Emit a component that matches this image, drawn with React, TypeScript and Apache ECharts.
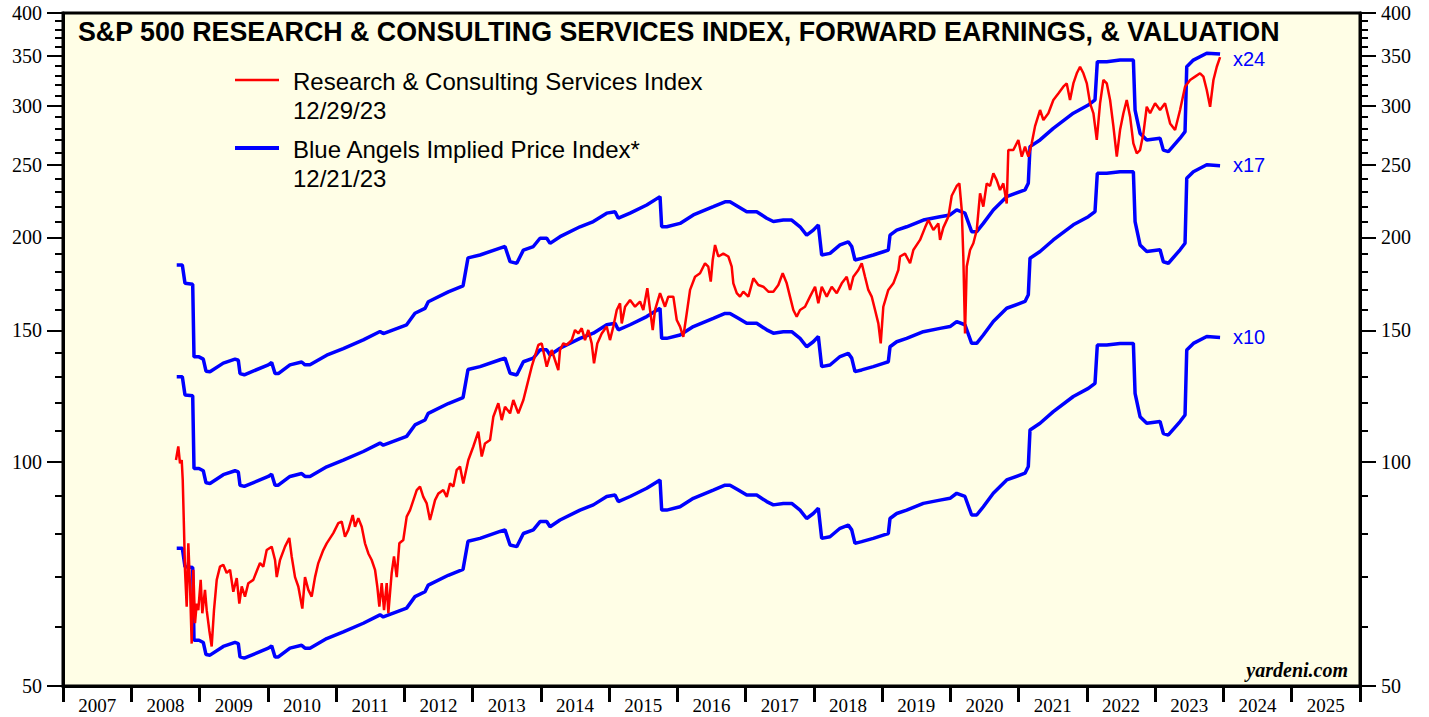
import React, { useEffect, useRef } from "react";
import * as echarts from "echarts";

// ---- data ----
const yearLabels = [2007, 2008, 2009, 2010, 2011, 2012, 2013, 2014, 2015, 2016, 2017, 2018, 2019, 2020, 2021, 2022, 2023, 2024, 2025];
const majorTicks = [50, 100, 150, 200, 250, 300, 350, 400];
const minorTicks = [60, 70, 80, 90, 110, 120, 130, 140, 160, 170, 180, 190, 210, 220, 230, 240, 260, 270, 280, 290, 310, 320, 330, 340, 360, 370, 380, 390];
const multiples = [24, 17, 10];

// Forward earnings (weekly): [decimal year, earnings]
const fwdEarnings: [number, number][] = [
  [2008.666, 7.65], [2008.748, 7.65], [2008.787, 7.23], [2008.900, 7.21], [2008.919, 5.76], [2008.992, 5.76],
  [2009.055, 5.72], [2009.095, 5.51], [2009.153, 5.50], [2009.348, 5.65], [2009.520, 5.72], [2009.568, 5.70],
  [2009.593, 5.47], [2009.656, 5.45], [2010.008, 5.62], [2010.057, 5.66], [2010.106, 5.47], [2010.154, 5.47],
  [2010.325, 5.62], [2010.496, 5.67], [2010.545, 5.62], [2010.618, 5.62], [2010.863, 5.79], [2011.106, 5.91],
  [2011.399, 6.07], [2011.644, 6.23], [2011.692, 6.19], [2012.034, 6.36], [2012.156, 6.59], [2012.303, 6.69],
  [2012.351, 6.83], [2012.644, 7.04], [2012.860, 7.17], [2012.933, 7.82], [2013.109, 7.89], [2013.402, 8.06],
  [2013.475, 8.10], [2013.549, 7.73], [2013.647, 7.69], [2013.744, 8.01], [2013.890, 8.10], [2013.988, 8.31],
  [2014.086, 8.31], [2014.135, 8.18], [2014.281, 8.35], [2014.574, 8.61], [2014.769, 8.75], [2014.965, 8.98],
  [2015.087, 9.02], [2015.135, 8.84], [2015.307, 8.98], [2015.551, 9.21], [2015.746, 9.45], [2015.770, 8.61],
  [2015.844, 8.61], [2016.039, 8.70], [2016.234, 8.93], [2016.526, 9.16], [2016.698, 9.30], [2016.771, 9.30],
  [2016.893, 9.16], [2017.016, 9.02], [2017.162, 9.02], [2017.309, 8.84], [2017.406, 8.75], [2017.552, 8.79],
  [2017.675, 8.79], [2017.797, 8.61], [2017.894, 8.39], [2017.991, 8.52], [2018.065, 8.66], [2018.114, 7.89],
  [2018.236, 7.93], [2018.383, 8.14], [2018.504, 8.22], [2018.554, 8.10], [2018.602, 7.77], [2018.700, 7.81],
  [2018.870, 7.89], [2019.017, 7.97], [2019.090, 8.01], [2019.115, 8.39], [2019.213, 8.52], [2019.359, 8.61],
  [2019.603, 8.79], [2019.847, 8.88], [2019.994, 8.93], [2020.092, 9.07], [2020.213, 8.98], [2020.311, 8.48],
  [2020.385, 8.48], [2020.482, 8.70], [2020.628, 9.07], [2020.824, 9.45], [2021.093, 9.65], [2021.141, 9.85],
  [2021.166, 11.03], [2021.313, 11.26], [2021.507, 11.67], [2021.800, 12.23], [2022.020, 12.54], [2022.118, 12.74],
  [2022.152, 14.34], [2022.290, 14.34], [2022.485, 14.41], [2022.680, 14.41], [2022.705, 12.35], [2022.778, 11.49],
  [2022.876, 11.26], [2023.071, 11.32], [2023.119, 10.91], [2023.193, 10.86], [2023.364, 11.32], [2023.437, 11.55],
  [2023.462, 14.12], [2023.559, 14.41], [2023.755, 14.72], [2023.950, 14.68],
];

// Research & Consulting Services Index: [decimal year, index]
const rcsIndex: [number, number][] = [
  [2008.655, 100.5], [2008.689, 104.8], [2008.714, 99.5], [2008.739, 100.5], [2008.754, 94.5], [2008.773, 81.0],
  [2008.787, 71.6], [2008.812, 63.9], [2008.836, 77.7], [2008.861, 68.0], [2008.885, 57.0], [2008.909, 71.6],
  [2008.934, 60.7], [2008.959, 64.5], [2008.982, 63.2], [2009.017, 69.4], [2009.041, 62.6], [2009.080, 67.3],
  [2009.105, 63.2], [2009.143, 59.4], [2009.178, 56.5], [2009.212, 63.2], [2009.252, 69.4], [2009.300, 72.3],
  [2009.348, 72.7], [2009.398, 70.9], [2009.447, 71.6], [2009.495, 66.9], [2009.545, 69.8], [2009.583, 64.5],
  [2009.618, 68.0], [2009.666, 65.9], [2009.715, 68.7], [2009.788, 69.4], [2009.846, 71.6], [2009.886, 73.1],
  [2009.934, 72.3], [2009.984, 76.1], [2010.057, 76.9], [2010.106, 73.8], [2010.131, 70.0], [2010.179, 73.8],
  [2010.252, 76.9], [2010.315, 79.0], [2010.350, 74.6], [2010.399, 70.0], [2010.447, 68.0], [2010.506, 63.5],
  [2010.545, 70.0], [2010.594, 67.3], [2010.643, 65.9], [2010.692, 70.0], [2010.740, 73.1], [2010.813, 76.1],
  [2010.863, 77.7], [2010.960, 80.2], [2011.033, 82.7], [2011.083, 83.1], [2011.131, 79.3], [2011.180, 81.0],
  [2011.244, 84.8], [2011.278, 81.8], [2011.326, 84.0], [2011.376, 81.8], [2011.424, 77.7], [2011.473, 75.3],
  [2011.522, 73.8], [2011.571, 71.6], [2011.604, 68.0], [2011.634, 63.9], [2011.669, 68.7], [2011.703, 63.2],
  [2011.742, 68.7], [2011.766, 62.6], [2011.815, 70.9], [2011.849, 74.6], [2011.889, 70.0], [2011.927, 77.7],
  [2011.985, 78.5], [2012.035, 84.4], [2012.084, 86.1],
  [2012.182, 91.6], [2012.230, 92.6], [2012.278, 89.7], [2012.328, 87.9], [2012.376, 83.5], [2012.401, 85.2],
  [2012.450, 88.8], [2012.498, 90.6], [2012.571, 91.6], [2012.621, 89.7], [2012.670, 93.5], [2012.718, 92.6],
  [2012.768, 97.5], [2012.816, 98.5], [2012.864, 93.5], [2012.938, 100.5], [2013.011, 104.8], [2013.084, 109.7],
  [2013.134, 101.6], [2013.182, 105.8], [2013.256, 106.9], [2013.304, 114.9], [2013.377, 119.8], [2013.427, 113.7],
  [2013.475, 118.5], [2013.549, 116.1], [2013.597, 121.0], [2013.670, 116.1], [2013.744, 121.0], [2013.793, 126.1],
  [2013.866, 134.1], [2013.963, 143.4], [2014.013, 144.1], [2014.086, 134.1], [2014.159, 141.2], [2014.256, 132.7],
  [2014.281, 141.2], [2014.329, 144.1], [2014.379, 143.4], [2014.452, 145.6], [2014.501, 150.2], [2014.549, 148.6],
  [2014.599, 151.0], [2014.647, 145.6], [2014.695, 150.2], [2014.745, 144.1], [2014.779, 135.5], [2014.827, 144.1],
  [2014.892, 148.6], [2014.965, 151.8], [2015.013, 145.6], [2015.062, 151.8], [2015.112, 159.8], [2015.160, 163.1],
  [2015.185, 153.3], [2015.234, 161.4], [2015.307, 164.8], [2015.380, 161.4], [2015.453, 164.0], [2015.501, 159.8],
  [2015.560, 170.9], [2015.600, 159.8], [2015.639, 150.2], [2015.673, 159.8], [2015.746, 168.3], [2015.819, 161.4],
  [2015.867, 166.5], [2015.941, 166.5], [2015.991, 154.9], [2016.039, 151.8], [2016.087, 147.1], [2016.137, 158.1],
  [2016.186, 170.0], [2016.259, 177.1], [2016.332, 179.0], [2016.405, 184.6], [2016.453, 182.7], [2016.489, 174.4],
  [2016.518, 186.5], [2016.552, 195.3], [2016.600, 188.5], [2016.673, 190.2], [2016.747, 188.5], [2016.796, 182.7],
  [2016.820, 173.5], [2016.870, 168.3], [2016.918, 166.5], [2016.966, 169.1], [2017.040, 166.5], [2017.113, 176.2],
  [2017.186, 172.6], [2017.259, 171.7], [2017.333, 169.1], [2017.406, 169.1], [2017.479, 172.6], [2017.543, 179.0],
  [2017.602, 173.5], [2017.650, 166.5], [2017.699, 159.8], [2017.748, 156.5], [2017.797, 159.8], [2017.870, 161.4],
  [2017.943, 166.5], [2018.017, 171.7], [2018.065, 163.1], [2018.115, 171.7], [2018.188, 166.5], [2018.261, 171.7],
  [2018.335, 168.3], [2018.408, 173.5], [2018.481, 177.1], [2018.530, 170.0], [2018.578, 177.1], [2018.651, 180.8],
  [2018.701, 184.6], [2018.749, 177.1], [2018.797, 170.0], [2018.847, 166.5], [2018.896, 159.8], [2018.944, 153.3],
  [2018.979, 144.1], [2019.017, 161.4], [2019.090, 170.0], [2019.164, 173.5], [2019.237, 180.8],
  [2019.262, 188.5], [2019.335, 190.2], [2019.409, 184.6], [2019.457, 192.3], [2019.555, 198.4], [2019.628, 206.1],
  [2019.677, 211.0], [2019.750, 204.6], [2019.823, 208.8], [2019.848, 198.4], [2019.896, 206.1], [2019.970, 213.2],
  [2020.019, 227.4], [2020.092, 234.4], [2020.131, 236.3], [2020.166, 217.6], [2020.189, 188.5], [2020.214, 148.6],
  [2020.239, 182.7], [2020.288, 192.3], [2020.336, 196.4], [2020.386, 204.6], [2020.434, 229.1], [2020.482, 219.9],
  [2020.532, 236.3], [2020.580, 234.4], [2020.629, 243.7], [2020.678, 238.7], [2020.727, 231.5], [2020.775, 236.3],
  [2020.825, 222.0], [2020.848, 261.9], [2020.922, 261.9], [2020.995, 270.2], [2021.045, 256.6], [2021.093, 264.6],
  [2021.142, 256.6], [2021.191, 267.4], [2021.240, 282.0], [2021.313, 296.4], [2021.362, 287.4], [2021.435, 293.4],
  [2021.508, 305.7], [2021.581, 312.0], [2021.654, 318.6], [2021.704, 321.8], [2021.752, 305.7], [2021.801, 321.8],
  [2021.851, 332.0], [2021.899, 338.8], [2021.948, 332.0], [2021.998, 321.8], [2022.046, 302.6], [2022.095, 293.4],
  [2022.144, 270.2], [2022.192, 302.6], [2022.241, 325.2], [2022.291, 321.8], [2022.339, 305.7], [2022.388, 281.5],
  [2022.437, 256.6], [2022.485, 278.6], [2022.534, 293.4], [2022.583, 305.7], [2022.632, 290.4], [2022.680, 267.4],
  [2022.730, 259.3], [2022.778, 261.9], [2022.827, 275.7], [2022.876, 299.4], [2022.925, 293.4], [2022.998, 302.6],
  [2023.071, 296.4], [2023.144, 302.6], [2023.218, 284.4], [2023.291, 278.6], [2023.364, 296.4], [2023.437, 318.6],
  [2023.511, 325.2], [2023.584, 328.6], [2023.657, 332.0], [2023.706, 328.6], [2023.755, 315.3], [2023.804, 299.4],
  [2023.853, 325.2], [2023.902, 338.8], [2023.950, 349.1],
];

const TITLE = "S&P 500 RESEARCH & CONSULTING SERVICES INDEX, FORWARD EARNINGS, & VALUATION";
const SERIF = '"Liberation Serif", "Times New Roman", serif';
const SANS = '"Liberation Sans", Arial, sans-serif';

function yAxisDef(position: "left" | "right", ticks: number[], len: number, labels: boolean, line: boolean) {
  return {
    type: "log",
    logBase: 10,
    min: 50,
    max: 400,
    position,
    axisLine: { show: line, lineStyle: { color: "#000", width: 3 } },
    axisTick: { show: true, customValues: ticks, length: len, lineStyle: { color: "#000", width: 2 } },
    axisLabel: {
      show: labels,
      customValues: ticks,
      formatter: (v: number) => String(Math.round(v)),
      fontFamily: SERIF,
      fontSize: 20,
      color: "#000",
      margin: 21,
    },
    splitLine: { show: false },
    minorTick: { show: false },
  };
}

export default function App() {
  const ref = useRef<HTMLDivElement>(null);
  useEffect(() => {
    if (!ref.current) return;
    const chart = echarts.init(ref.current, null, { renderer: "svg" });
    const blueSeries = multiples.map((m) => ({
      type: "line",
      name: "x" + m,
      xAxisIndex: 0,
      yAxisIndex: 0,
      data: fwdEarnings.map(([t, e]) => [t, +(e * m).toFixed(2)]),
      symbol: "none",
      lineStyle: { color: "#0000ff", width: 3.5 },
      z: 2,
    }));
    const option: any = {
      animation: false,
      backgroundColor: "#ffffff",
      grid: {
        left: 63,
        right: 69,
        top: 13,
        bottom: 31,
        show: true,
        backgroundColor: "#fffee6",
        borderColor: "#000",
        borderWidth: 3,
      },
      xAxis: {
        type: "value",
        min: 2007,
        max: 2026,
        interval: 1,
        axisLine: { show: true, lineStyle: { color: "#000", width: 3 } },
        axisTick: { show: true, length: 16, lineStyle: { color: "#000", width: 3 } },
        axisLabel: {
          customValues: yearLabels.map((y) => y + 0.5),
          formatter: (v: number) => String(Math.floor(v)),
          fontFamily: SERIF,
          fontSize: 19,
          color: "#000",
          margin: 10,
        },
        splitLine: { show: false },
      },
      yAxis: [
        yAxisDef("left", majorTicks, 16, true, true),
        yAxisDef("left", minorTicks, 8, false, false),
        yAxisDef("right", majorTicks, 16, true, true),
        yAxisDef("right", minorTicks, 8, false, false),
      ],
      series: [
        ...blueSeries,
        {
          type: "line",
          name: "Research & Consulting Services Index",
          xAxisIndex: 0,
          yAxisIndex: 0,
          data: rcsIndex,
          symbol: "none",
          lineStyle: { color: "#ff0000", width: 2.5 },
          z: 3,
        },
      ],
      graphic: [
        {
          type: "text",
          x: 78,
          y: 32,
          style: {
            text: TITLE,
            font: `bold 26.8px ${SANS}`,
            fill: "#000",
            verticalAlign: "middle",
          },
          z: 10,
        },
        { type: "line", shape: { x1: 235, y1: 80, x2: 279, y2: 80 }, style: { stroke: "#ff0000", lineWidth: 2.5 }, z: 10 },
        {
          type: "text",
          x: 293,
          y: 81,
          style: { text: "Research & Consulting Services Index", font: `24px ${SANS}`, fill: "#000", verticalAlign: "middle" },
          z: 10,
        },
        {
          type: "text",
          x: 293,
          y: 110,
          style: { text: "12/29/23", font: `24px ${SANS}`, fill: "#000", verticalAlign: "middle" },
          z: 10,
        },
        { type: "line", shape: { x1: 235, y1: 148, x2: 279, y2: 148 }, style: { stroke: "#0000ff", lineWidth: 4 }, z: 10 },
        {
          type: "text",
          x: 293,
          y: 149,
          style: { text: "Blue Angels Implied Price Index*", font: `24px ${SANS}`, fill: "#000", verticalAlign: "middle" },
          z: 10,
        },
        {
          type: "text",
          x: 293,
          y: 178,
          style: { text: "12/21/23", font: `24px ${SANS}`, fill: "#000", verticalAlign: "middle" },
          z: 10,
        },
        {
          type: "text",
          x: 1233,
          y: 59,
          style: { text: "x24", font: `20px ${SANS}`, fill: "#0000ff", verticalAlign: "middle" },
          z: 10,
        },
        {
          type: "text",
          x: 1233,
          y: 165,
          style: { text: "x17", font: `20px ${SANS}`, fill: "#0000ff", verticalAlign: "middle" },
          z: 10,
        },
        {
          type: "text",
          x: 1233,
          y: 337,
          style: { text: "x10", font: `20px ${SANS}`, fill: "#0000ff", verticalAlign: "middle" },
          z: 10,
        },
        {
          type: "text",
          x: 1348,
          y: 670,
          style: {
            text: "yardeni.com",
            font: `italic bold 20px ${SERIF}`,
            fill: "#000",
            align: "right",
            verticalAlign: "middle",
          },
          z: 10,
        },
      ],
    };
    chart.setOption(option);
    return () => chart.dispose();
  }, []);
  return (
    <div
      ref={ref}
      style={{ position: "absolute", left: 0, top: 0, width: 1429, height: 717 }}
    />
  );
}
